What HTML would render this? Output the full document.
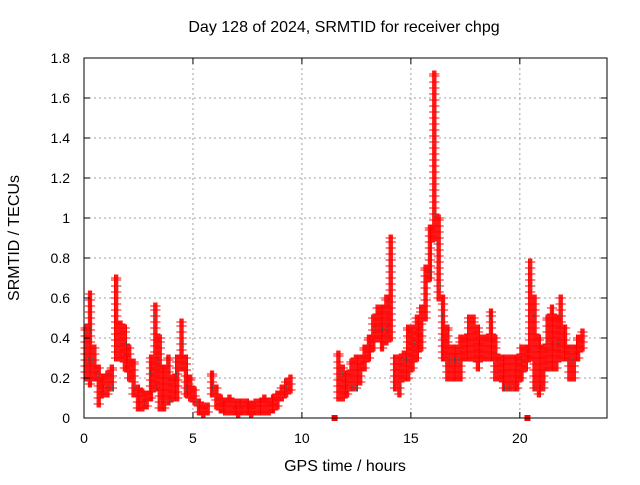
<!DOCTYPE html>
<html><head><meta charset="utf-8"><style>
body{margin:0;background:#fff}
svg text{font-family:"Liberation Sans",sans-serif;font-size:16px;fill:#000}
svg text.tick{font-size:14px}
</style></head><body>
<svg id="chart" width="640" height="480" viewBox="0 0 640 480" xmlns="http://www.w3.org/2000/svg">
<rect width="640" height="480" fill="#fff"/>
<text x="344" y="32" text-anchor="middle">Day 128 of 2024, SRMTID for receiver chpg</text>
<text x="345" y="471" text-anchor="middle">GPS time / hours</text>
<text transform="translate(19,238) rotate(-90)" text-anchor="middle">SRMTID / TECUs</text>
<g id="grid"></g><g id="marks"></g><g id="axes"></g>
</svg>
<script>
const times1=[0,0.2,0.4,0.6,0.8,1.0,1.2,1.4,1.6,1.8,2.0,2.2,2.4,2.6,2.8,3.0,3.2,3.4,3.6,3.8,4.0,4.2,4.4,4.6,4.8,5.0,5.2,5.4,5.6,5.8,6.0,6.2,6.4,6.6,6.8,7.0,7.2,7.4,7.6,7.8,8.0,8.2,8.4,8.6,8.8,9.0,9.2,9.4];
const lo1=[0.2,0.17,0.2,0.07,0.12,0.12,0.15,0.3,0.3,0.25,0.2,0.12,0.05,0.05,0.06,0.1,0.15,0.05,0.05,0.08,0.1,0.1,0.25,0.12,0.1,0.08,0.03,0.02,0.03,0.12,0.06,0.04,0.03,0.03,0.03,0.02,0.03,0.03,0.02,0.03,0.03,0.03,0.03,0.04,0.06,0.1,0.12,0.14];
const hi1=[0.45,0.62,0.35,0.25,0.2,0.22,0.25,0.7,0.47,0.45,0.35,0.28,0.15,0.13,0.12,0.3,0.56,0.4,0.25,0.3,0.2,0.3,0.48,0.3,0.2,0.14,0.08,0.06,0.06,0.22,0.15,0.1,0.08,0.1,0.08,0.08,0.08,0.08,0.07,0.08,0.08,0.1,0.08,0.1,0.12,0.15,0.18,0.2];
const times2=[11.6,11.8,12.0,12.2,12.4,12.6,12.8,13.0,13.2,13.4,13.6,13.8,14.0,14.2,14.4,14.6,14.8,15.0,15.2,15.4,15.6,15.8,16.0,16.2,16.4,16.6,16.8,17.0,17.2,17.4,17.6,17.8,18.0,18.2,18.4,18.6,18.8,19.0,19.2,19.4,19.6,19.8,20.0,20.2,20.4,20.6,20.8,21.0,21.2,21.4,21.6,21.8,22.0,22.2,22.4,22.6,22.8];
const lo2=[0.1,0.1,0.12,0.15,0.15,0.18,0.25,0.3,0.35,0.4,0.35,0.38,0.4,0.15,0.12,0.2,0.2,0.25,0.3,0.35,0.5,0.7,0.9,0.6,0.3,0.2,0.2,0.2,0.2,0.3,0.3,0.3,0.25,0.3,0.3,0.3,0.2,0.2,0.15,0.15,0.15,0.15,0.2,0.25,0.3,0.15,0.12,0.15,0.25,0.25,0.25,0.3,0.3,0.2,0.2,0.3,0.35];
const hi2=[0.32,0.25,0.22,0.28,0.3,0.3,0.35,0.4,0.5,0.55,0.55,0.6,0.9,0.3,0.3,0.32,0.45,0.45,0.5,0.55,0.75,0.95,1.72,1.0,0.6,0.45,0.35,0.35,0.4,0.4,0.5,0.5,0.45,0.4,0.4,0.53,0.4,0.3,0.3,0.3,0.3,0.3,0.35,0.35,0.78,0.6,0.4,0.35,0.5,0.55,0.5,0.6,0.45,0.35,0.35,0.4,0.43];
const zeroTimes=[11.5,20.35];
const xTicks=[0,5,10,15,20];
const yTicks=[0,0.2,0.4,0.6,0.8,1,1.2,1.4,1.6,1.8];
const L=84,R=607,T=58,B=418,XMAX=24,YMAX=1.8;
const X=t=>L+t/XMAX*(R-L), Y=v=>B-v/YMAX*(B-T);
const NS="http://www.w3.org/2000/svg";
function mk(tag,attrs,parent){const e=document.createElementNS(NS,tag);for(const k in attrs)e.setAttribute(k,attrs[k]);parent.appendChild(e);return e;}
const grid=document.getElementById('grid'),marks=document.getElementById('marks'),axes=document.getElementById('axes');
xTicks.forEach(t=>{
  if(t>0){const g=mk('line',{x1:X(t),x2:X(t),y1:T,y2:B,stroke:'#a0a0a0','stroke-dasharray':'2,3'},grid);
  
  }
  const tk=mk('path',{d:`M${X(t)},${B}v-6M${X(t)},${T}v6`,stroke:'#000'},axes);
  
  
  const lb=mk('text',{x:X(t),y:B+25,'text-anchor':'middle','class':'tick'},axes);lb.textContent=t;
  
  
});
yTicks.forEach(v=>{
  if(v>0&&v<YMAX){const g=mk('line',{x1:L,x2:R,y1:Y(v),y2:Y(v),stroke:'#a0a0a0','stroke-dasharray':'2,3'},grid);
  
  }
  const tk=mk('path',{d:`M${L},${Y(v)}h6M${R},${Y(v)}h-6`,stroke:'#000'},axes);
  
  
  const lb=mk('text',{x:L-14,y:Y(v)+5,'text-anchor':'end','class':'tick'},axes);lb.textContent=v;
  
  
});
const frame=mk('rect',{x:L,y:T,width:R-L,height:B-T,fill:'none',stroke:'#000'},axes);


let d='',dg='';
function series(ts,lo,hi){
  ts.forEach((t,i)=>{
    [0,0.05,0.1,0.15].forEach((o,j)=>{
      for(let v=lo[i];v<=hi[i]+1e-6;v+=0.03){
        const x=X(t+o),y=Y(v);
        const s=`M${x-3.5},${y}h7M${x},${y-3.5}v7`;
        if((j*7+Math.round(v*100))%29===0)dg+=s;else d+=s;
      }
      const x=X(t+o),y=Y(hi[i]);d+=`M${x-3.5},${y}h7M${x},${y-3.5}v7`;
    });
  });
}
series(times1,lo1,hi1);series(times2,lo2,hi2);
const pg=mk('path',{d:dg,stroke:'#404040','stroke-width':1,fill:'none'},marks);


const pr=mk('path',{d:d,stroke:'#ff0000','stroke-width':1,fill:'none'},marks);


zeroTimes.forEach(t=>{
  const r=mk('rect',{x:X(t)-3,y:Y(0)-3,width:6,height:6,fill:'#ff0000'},marks);
  
  
});
</script>
</body></html>
